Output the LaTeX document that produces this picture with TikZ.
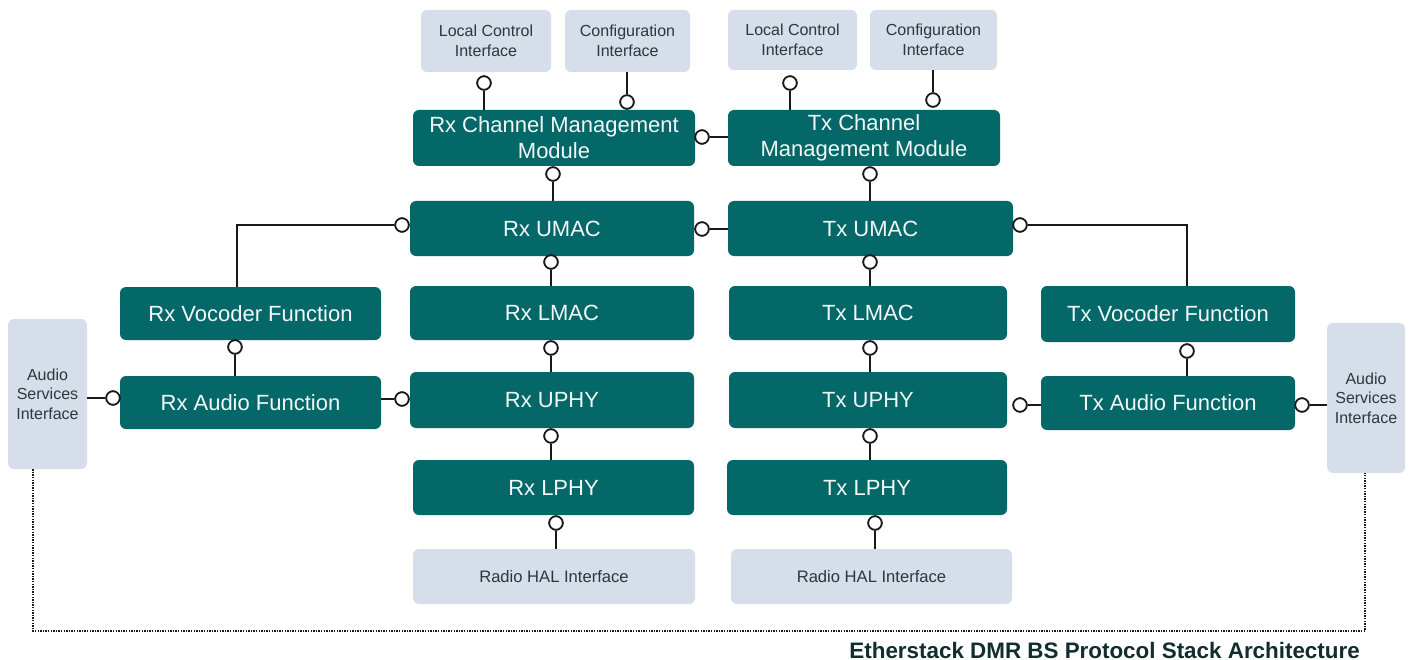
\documentclass[tikz,border=0pt]{standalone}
\usepackage{fontspec}
\setmainfont{Liberation Sans}
\definecolor{teal1}{RGB}{4,103,104}
\definecolor{pale}{RGB}{213,222,233}
\definecolor{paletext}{RGB}{45,55,60}
\definecolor{ink}{RGB}{25,25,25}
\definecolor{titlec}{RGB}{18,45,45}
\begin{document}
\begin{tikzpicture}[x=1pt,y=-1pt,
  blk/.style={rectangle, rounded corners=6pt, fill=teal1, text=white!95!teal1, align=center,
    inner sep=0pt, font=\fontsize{22}{26}\selectfont},
  ifc/.style={rectangle, rounded corners=6pt, fill=pale, text=paletext, align=center,
    inner sep=0pt, font=\fontsize{16}{19.5}\selectfont},
  haltext/.style={font=\fontsize{16.6}{19.5}\selectfont},
  sock/.style={circle, draw=ink, fill=white, line width=1.7pt, inner sep=0pt, minimum size=13.5pt},
  wire/.style={draw=ink, line width=2pt},
  loop/.style={draw=ink, line width=1.6pt, dash pattern=on 1.4pt off 1.2pt}]
\useasboundingbox (0,0) rectangle (1412,660);

% interface boxes
\node[ifc, minimum width=130pt, minimum height=62pt] (rlci) at (486,41) {Local Control\\Interface};
\node[ifc, minimum width=125pt, minimum height=62pt] (rcfg) at (627.5,41) {Configuration\\Interface};
\node[ifc, minimum width=129pt, minimum height=60pt] (tlci) at (792.5,40) {Local Control\\Interface};
\node[ifc, minimum width=127pt, minimum height=60pt] (tcfg) at (933.5,40) {Configuration\\Interface};
\node[ifc, haltext, minimum width=282pt, minimum height=55pt] (rhal) at (554,576.5) {Radio HAL Interface};
\node[ifc, haltext, minimum width=281pt, minimum height=55pt] (thal) at (871.5,576.5) {Radio HAL Interface};
\node[ifc, minimum width=79pt, minimum height=150pt] (rasi) at (47.5,394) {Audio\\Services\\Interface};
\node[ifc, minimum width=78pt, minimum height=150pt] (tasi) at (1366,398) {Audio\\Services\\Interface};

% teal blocks
\node[blk, minimum width=282pt, minimum height=56pt] (rcmm) at (554,138) {Rx Channel Management\\Module};
\node[blk, minimum width=272pt, minimum height=56pt] (tcmm) at (864,138) {Tx Channel\\Management Module};
\node[blk, minimum width=284pt, minimum height=55pt] (rumac) at (552,228.5) {Rx UMAC};
\node[blk, minimum width=285pt, minimum height=55pt] (tumac) at (870.5,228.5) {Tx UMAC};
\node[blk, minimum width=284pt, minimum height=54pt] (rlmac) at (552,313) {Rx LMAC};
\node[blk, minimum width=278pt, minimum height=54pt] (tlmac) at (868,313) {Tx LMAC};
\node[blk, minimum width=284pt, minimum height=56pt] (ruphy) at (552,400) {Rx UPHY};
\node[blk, minimum width=278pt, minimum height=56pt] (tuphy) at (868,400) {Tx UPHY};
\node[blk, minimum width=281pt, minimum height=55pt] (rlphy) at (553.5,487.5) {Rx LPHY};
\node[blk, minimum width=280pt, minimum height=55pt] (tlphy) at (867,487.5) {Tx LPHY};
\node[blk, minimum width=261pt, minimum height=53pt] (rvoc) at (250.5,313.5) {Rx Vocoder Function};
\node[blk, minimum width=261pt, minimum height=53pt] (raud) at (250.5,402.5) {Rx Audio Function};
\node[blk, minimum width=254pt, minimum height=56pt] (tvoc) at (1168,314) {Tx Vocoder Function};
\node[blk, minimum width=254pt, minimum height=54pt] (taud) at (1168,403) {Tx Audio Function};

% sockets
\node[sock] (c1) at (484,83) {};
\node[sock] (c2) at (627,102) {};
\node[sock] (c3) at (790,83) {};
\node[sock] (c4) at (933,100) {};
\node[sock] (c5) at (702,137) {};
\node[sock] (c6) at (553,174) {};
\node[sock] (c7) at (870,174) {};
\node[sock] (c8) at (702,229) {};
\node[sock] (c9) at (402,225) {};
\node[sock] (c10) at (1020,225) {};
\node[sock] (c11) at (551,262) {};
\node[sock] (c12) at (870,262) {};
\node[sock] (c13) at (551,348) {};
\node[sock] (c14) at (870,348) {};
\node[sock] (c15) at (551,436) {};
\node[sock] (c16) at (870,436) {};
\node[sock] (c17) at (556,523) {};
\node[sock] (c18) at (875,523) {};
\node[sock] (c19) at (235,347) {};
\node[sock] (c20) at (1187,351) {};
\node[sock] (c21) at (113,398) {};
\node[sock] (c22) at (402,399) {};
\node[sock] (c23) at (1020,405) {};
\node[sock] (c24) at (1302,405) {};

% wires
\draw[wire] (c1.south) -- (c1.south |- rcmm.north);
\draw[wire] (c2.north) -- (c2.north |- rcfg.south);
\draw[wire] (c3.south) -- (c3.south |- tcmm.north);
\draw[wire] (c4.north) -- (c4.north |- tcfg.south);
\draw[wire] (c5.east) -- (c5.east -| tcmm.west);
\draw[wire] (c6.south) -- (c6.south |- rumac.north);
\draw[wire] (c7.south) -- (c7.south |- tumac.north);
\draw[wire] (c8.east) -- (c8.east -| tumac.west);
\coordinate (k1) at (237,225);
\coordinate (k2) at (1187,225);
\draw[wire] (c9.west) -- (k1) -- (k1 |- rvoc.north);
\draw[wire] (c10.east) -- (k2) -- (k2 |- tvoc.north);
\draw[wire] (c11.south) -- (c11.south |- rlmac.north);
\draw[wire] (c12.south) -- (c12.south |- tlmac.north);
\draw[wire] (c13.south) -- (c13.south |- ruphy.north);
\draw[wire] (c14.south) -- (c14.south |- tuphy.north);
\draw[wire] (c15.south) -- (c15.south |- rlphy.north);
\draw[wire] (c16.south) -- (c16.south |- tlphy.north);
\draw[wire] (c17.south) -- (c17.south |- rhal.north);
\draw[wire] (c18.south) -- (c18.south |- thal.north);
\draw[wire] (c19.south) -- (c19.south |- raud.north);
\draw[wire] (c20.south) -- (c20.south |- taud.north);
\draw[wire] (c21.west) -- (c21.west -| rasi.east);
\draw[wire] (c22.west) -- (c22.west -| raud.east);
\draw[wire] (c23.east) -- (c23.east -| taud.west);
\draw[wire] (c24.east) -- (c24.east -| tasi.west);

% redraw sockets on top of wires
\foreach \c in {c1,c2,c3,c4,c5,c6,c7,c8,c9,c10,c11,c12,c13,c14,c15,c16,c17,c18,c19,c20,c21,c22,c23,c24}
  \node[sock] at (\c) {};

% dotted loop
\coordinate (d1) at (33,631);
\coordinate (d2) at (1365,631);
\draw[loop] (rasi.south -| d1) -- (d1) -- (d2) -- (tasi.south -| d2);

% title
\node[anchor=base east, text=titlec, inner sep=0pt, font=\bfseries\fontsize{22.4}{25}\selectfont] (title) at (1360,658) {Etherstack DMR BS Protocol Stack Architecture};
\end{tikzpicture}
\end{document}
